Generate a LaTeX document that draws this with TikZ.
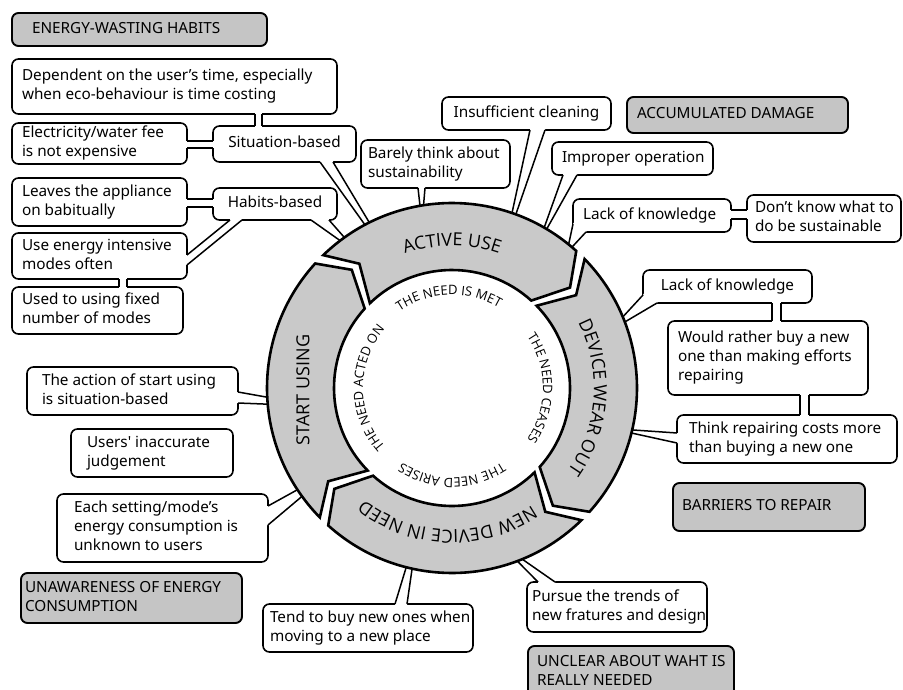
\documentclass[tikz,border=0pt]{standalone}
\usepackage{fontspec}
\usetikzlibrary{decorations.text}
\newfontfamily\boxfont{Noto Sans}
\newfontfamily\ringfont{Open Sans}
\definecolor{segfill}{RGB}{201,201,201}
\definecolor{hdrfill}{RGB}{197,197,197}

\def\bxal{l}
% box: [style]{name}{x1}{y1}{x2}{y2}{side padding}{text}
\newcommand\bx[8][wbox]{%
  \pgfmathsetmacro\bxw{#5-#3}%
  \pgfmathsetmacro\bxh{#6-#4}%
  \pgfmathsetmacro\bxt{#5-#3-2*#7}%
  \node[#1, minimum width=\bxw pt, minimum height=\bxh pt, inner xsep=#7pt]
    (#2) at ({(#3+#5)/2},{(#4+#6)/2})
    {\makebox[\bxt pt][\bxal]{\begin{tabular}{@{}\bxal@{}}#8\end{tabular}}};}

% open two-line bridge between a box edge and another box edge (or the ring)
\newcommand\bridge[4]{%
  \fill[white] (#1) -- (#3) -- (#4) -- (#2) -- cycle;
  \draw[white, line width=3pt] (#1) -- (#2) (#3) -- (#4);
  \draw[linkline] (#1) -- (#3) (#2) -- (#4);}

% ring geometry
\def\ringO{185}
\def\ringI{118}
\def\ringM{155}
\def\segP{3.7}
\def\segG{1.8}
% arrow-shaped ring segment between two boundary angles (clockwise)
\newcommand\ringseg[2]{%
  \draw[segment] ({#1-\segP+\segG}:\ringO)
    arc[start angle={#1-\segP+\segG}, end angle={#2-\segP-\segG}, radius=\ringO]
    -- ({#2+\segP-\segG}:\ringM) -- ({#2-\segP-\segG}:\ringI)
    arc[start angle={#2-\segP-\segG}, end angle={#1-\segP+\segG}, radius=\ringI]
    -- ({#1+\segP+\segG}:\ringM) -- cycle;}
% text running clockwise along an arc
\newcommand\arctext[5]{% radius, start, end, size, text
  \path[decorate, decoration={text along path, text align=center,
    text={|\ringfont\fontsize{#4}{#4}\selectfont|#5}}]
    (#2:#1) arc[start angle=#2, end angle=#3, radius=#1];}

\begin{document}
\begin{tikzpicture}[x=1pt,y=-1pt,
  wbox/.style={draw, line width=1.6pt, rounded corners=6.5pt, fill=white,
    font=\boxfont\fontsize{15.3}{19}\selectfont, inner ysep=0pt, outer sep=0pt},
  wboxc/.style={wbox, /utils/exec=\def\bxal{c}},
  gbox/.style={wbox, fill=hdrfill, line width=1.9pt},
  linkline/.style={line width=1.5pt},
  segment/.style={draw, fill=segfill, line width=2.6pt, line join=miter}]
\useasboundingbox (0,0) rectangle (903,690);
\coordinate (hub) at (452,388);

% ---------- boxes ----------
\bx[gbox]{hdrEnergy}{12}{13}{267}{46}{20}{ENERGY-WASTING HABITS}
\bx{dep}{12}{59}{337}{114}{10}{Dependent on the user’s time, especially\\when eco-behaviour is time costing}
\bx{elec}{12}{123}{187}{164}{10}{Electricity/water fee\\is not expensive}
\bx[wboxc]{sit}{213}{126}{356}{162}{8}{Situation-based}
\bx{leaves}{12}{178}{187}{226}{10}{Leaves the appliance\\on babitually}
\bx[wboxc]{habit}{213}{188}{337}{220}{8}{Habits-based}
\bx{useen}{12}{233}{187}{279}{10}{Use energy intensive\\modes often}
\bx{fixed}{12}{287}{183}{334}{10}{Used to using fixed\\number of modes}
\bx{barely}{361}{140}{510}{188}{7}{Barely think about\\sustainability}
\bx[wboxc]{insuff}{442}{97}{611}{130}{6}{Insufficient cleaning}
\bx[gbox]{hdrDamage}{627}{97}{848}{133}{10}{ACCUMULATED DAMAGE}
\bx{improper}{552}{142}{713}{175}{10}{Improper operation}
\bx{lackA}{573}{199}{731}{232}{10}{Lack of knowledge}
\bx{dontknow}{747}{195}{901}{242}{8}{Don’t know what to\\do be sustainable}
\bx[wboxc]{lackB}{643}{270}{812}{303}{10}{Lack of knowledge}
\bx{rather}{668}{321}{868}{395}{10}{Would rather buy a new\\one than making efforts\\repairing}
\bx{costs}{677}{415}{897}{463}{12}{Think repairing costs more\\than buying a new one}
\bx[gbox]{hdrRepair}{673}{483}{865}{531}{9}{BARRIERS TO REPAIR}
\bx{action}{27}{367}{238}{415}{15}{The action of start using\\is situation-based}
\bx{judge}{71}{429}{233}{477}{16}{Users' inaccurate\\judgement}
\bx{unknown}{57}{494}{268}{562}{17}{Each setting/mode’s\\energy consumption is\\unknown to users}
\bx[gbox]{hdrUnaware}{21}{573}{242}{623}{4}{UNAWARENESS OF ENERGY\\CONSUMPTION}
\bx{moving}{263}{604}{473}{652}{7}{Tend to buy new ones when\\moving to a new place}
\bx{trends}{527}{582}{707}{632}{5}{Pursue the trends of\\new fratures and design}
\bx[gbox]{hdrUnclear}{528}{646}{734}{698}{9}{UNCLEAR ABOUT WAHT IS\\REALLY NEEDED}

% ---------- bridges between boxes ----------
\bridge{dep.south -| 255,0}{dep.south -| 262,0}{sit.north -| 255,0}{sit.north -| 262,0}
\bridge{elec.east |- 0,141}{elec.east |- 0,148}{sit.west |- 0,141}{sit.west |- 0,148}
\bridge{leaves.east |- 0,199}{leaves.east |- 0,207}{habit.west |- 0,199}{habit.west |- 0,207}
\bridge{useen.east |- 0,255}{useen.east |- 0,265}{habit.south -| 230,0}{habit.south -| 242,0}
\bridge{useen.south -| 119,0}{useen.south -| 127,0}{fixed.north -| 119,0}{fixed.north -| 127,0}
\bridge{lackA.east |- 0,210}{lackA.east |- 0,219}{dontknow.west |- 0,210}{dontknow.west |- 0,219}
\bridge{lackB.south -| 772,0}{lackB.south -| 781,0}{rather.north -| 772,0}{rather.north -| 781,0}
\bridge{rather.south -| 800,0}{rather.south -| 809,0}{costs.north -| 800,0}{costs.north -| 809,0}

% ---------- callout tails reaching the ring ----------
\bridge{sit.south -| 320,0}{sit.south -| 333,0}{[shift={(-118:183)}]hub}{[shift={(-116.5:183)}]hub}
\bridge{habit.south -| 311,0}{habit.south -| 329,0}{[shift={(-127:183)}]hub}{[shift={(-125.5:183)}]hub}
\bridge{barely.south -| 418,0}{barely.south -| 425,0}{[shift={(-100:183)}]hub}{[shift={(-99:183)}]hub}
\bridge{insuff.south -| 530,0}{insuff.south -| 545,0}{[shift={(-71:183)}]hub}{[shift={(-69.8:183)}]hub}
\bridge{improper.south -| 563,0}{improper.south -| 577,0}{[shift={(-60:183)}]hub}{[shift={(-59.2:183)}]hub}
\bridge{lackA.west |- 0,224}{lackA.south -| 586,0}{[shift={(-50.6:183)}]hub}{[shift={(-49.6:183)}]hub}
\bridge{lackB.west |- 0,295}{lackB.south -| 657,0}{[shift={(-22.3:183)}]hub}{[shift={(-20.8:183)}]hub}
\bridge{costs.west |- 0,433}{costs.west |- 0,443}{[shift={(13.2:183)}]hub}{[shift={(14.1:183)}]hub}
\bridge{trends.north -| 538,0}{trends.north -| 555,0}{[shift={(69.6:183)}]hub}{[shift={(68.1:183)}]hub}
\bridge{moving.north -| 395,0}{moving.north -| 407,0}{[shift={(104.3:183)}]hub}{[shift={(102.5:183)}]hub}
\bridge{unknown.east |- 0,506}{unknown.east |- 0,525}{[shift={(146.6:183)}]hub}{[shift={(144.2:183)}]hub}
\bridge{action.east |- 0,392}{action.east |- 0,403}{[shift={(177:183)}]hub}{[shift={(174.9:183)}]hub}

% ---------- life-cycle ring ----------
\begin{scope}[shift={(hub)}]
  \ringseg{-132.2}{-42.3}
  \ringseg{-42.3}{47.5}
  \ringseg{47.5}{137.5}
  \ringseg{137.5}{227.8}
  \arctext{142}{-150}{-30}{18}{ACTIVE USE}
  \arctext{142}{-56}{64}{18}{DEVICE WEAR OUT}
  \arctext{142}{32}{152}{18}{NEW DEVICE IN NEED}
  \arctext{93}{-152}{-32}{13}{THE NEED IS MET}
  \arctext{91}{-60}{60}{13}{THE NEED CEASES}
  \arctext{90}{30}{150}{13}{THE NEED ARISES}
  \arctext{89}{120}{240}{13}{THE NEED ACTED ON}
\end{scope}
\node[font=\ringfont\fontsize{18}{18}\selectfont, rotate=90, inner sep=0pt] (startlbl) at (303,390) {START USING};
\end{tikzpicture}
\end{document}
